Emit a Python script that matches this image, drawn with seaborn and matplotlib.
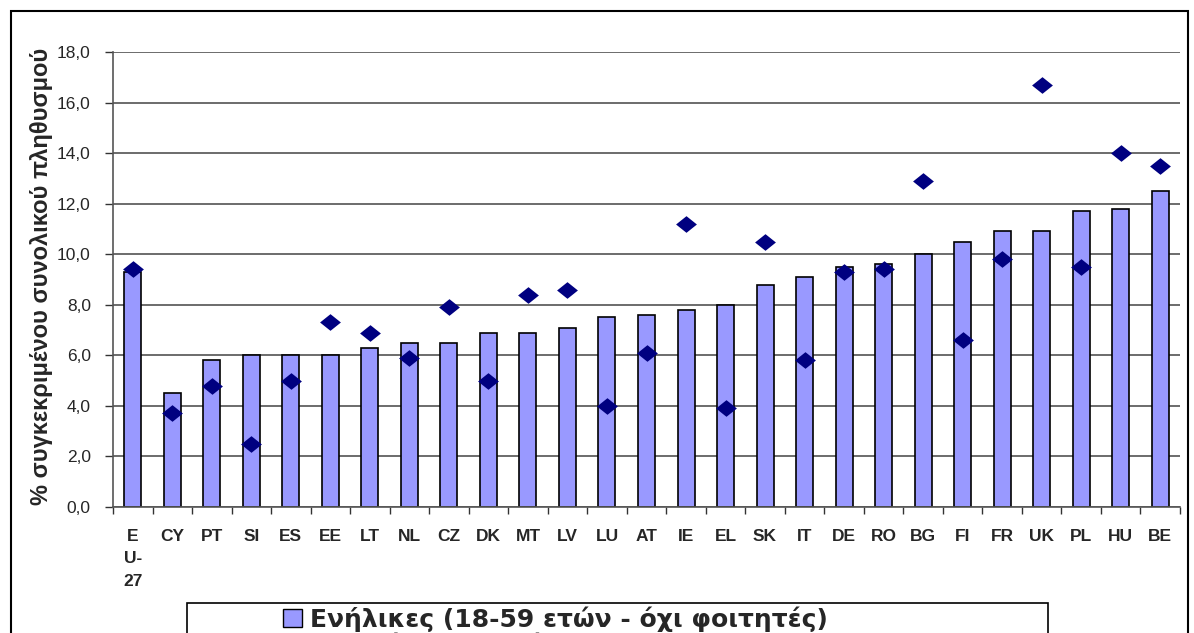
import numpy as np
import pandas as pd
import seaborn as sns
import matplotlib
matplotlib.use("Agg")
import matplotlib.pyplot as plt
from matplotlib.path import Path
from matplotlib.patches import Rectangle, Patch
from matplotlib.lines import Line2D

countries = ["EU-27", "CY", "PT", "SI", "ES", "EE", "LT", "NL", "CZ", "DK", "MT", "LV", "LU",
             "AT", "IE", "EL", "SK", "IT", "DE", "RO", "BG", "FI", "FR", "UK", "PL", "HU", "BE"]
tick_labels = ["E\nU-\n27", "CY", "PT", "SI", "ES", "EE", "LT", "NL", "CZ", "DK", "MT", "LV", "LU",
               "AT", "IE", "EL", "SK", "IT", "DE", "RO", "BG", "FI", "FR", "UK", "PL", "HU", "BE"]
adults = [9.3, 4.5, 5.8, 6.0, 6.0, 6.0, 6.3, 6.5, 6.5, 6.9, 6.9, 7.1, 7.5,
          7.6, 7.8, 8.0, 8.8, 9.1, 9.5, 9.6, 10.0, 10.5, 10.9, 10.9, 11.7, 11.8, 12.5]
children = [9.4, 3.7, 4.8, 2.5, 5.0, 7.3, 6.9, 5.9, 7.9, 5.0, 8.4, 8.6, 4.0,
            6.1, 11.2, 3.9, 10.5, 5.8, 9.3, 9.4, 12.9, 6.6, 9.8, 16.7, 9.5, 14.0, 13.5]
yticks = [0, 2, 4, 6, 8, 10, 12, 14, 16, 18]
ytick_labels = ["0,0", "2,0", "4,0", "6,0", "8,0", "10,0", "12,0", "14,0", "16,0", "18,0"]
label_adults = "Ενήλικες (18-59 ετών - όχι φοιτητές)"
label_children = "Παιδιά (0-17 ετών)"
ylabel = "% συγκεκριμένου συνολικού πληθυσμού"

df = pd.DataFrame({"country": countries, "adults": adults, "children": children})

sns.set_style("white")
plt.rcParams["font.family"] = ["Liberation Sans", "DejaVu Sans"]

W, H = 1194, 633
fig = plt.figure(figsize=(W / 100, H / 100), dpi=100)
ax = fig.add_axes([113 / W, 1 - 507 / H, (1180 - 113) / W, (507 - 52) / H])

bar_color = "#9999FF"
dia_color = "#000080"
diamond = Path([(-1, 0), (0, 0.8), (1, 0), (0, -0.8), (-1, 0)],
               [Path.MOVETO, Path.LINETO, Path.LINETO, Path.LINETO, Path.CLOSEPOLY])

sns.barplot(data=df, x="country", y="adults", order=countries, color=bar_color,
            width=0.43, edgecolor="black", linewidth=1.2, saturation=1, ax=ax, zorder=2)
sns.stripplot(data=df, x="country", y="children", order=countries, jitter=False,
              marker=diamond, size=15, color=dia_color, linewidth=0, ax=ax, zorder=3)

ax.set_xlim(-0.5, len(countries) - 0.5)
ax.set_ylim(0, 18)
ax.set_yticks(yticks)
ax.set_yticklabels(ytick_labels, fontsize=12.5)
ax.set_xticks(range(len(countries)))
ax.set_xticklabels(tick_labels, fontsize=12.5, fontweight="bold", va="top", linespacing=1.6)
ax.set_xticks(np.arange(-0.5, len(countries), 1.0), minor=True)
ax.tick_params(axis="x", which="major", length=0, pad=16)
ax.tick_params(axis="x", which="minor", length=5, width=1, color="#333333", direction="out", bottom=True)
ax.tick_params(axis="y", length=6, width=1, color="#333333", direction="out", left=True, pad=10)
ax.grid(axis="y", color="#444444", linewidth=1.1, zorder=0)
ax.set_axisbelow(True)
for s in ["top", "right"]:
    ax.spines[s].set_visible(False)
for s in ["left", "bottom"]:
    ax.spines[s].set_color("#555555")
    ax.spines[s].set_linewidth(1.2)
ax.set_xlabel("")
ax.set_ylabel("")

fig.text(42 / W, 1 - 276 / H, ylabel, rotation=90, fontsize=17, fontweight="bold",
         ha="center", va="center")

# outer chart frame
fig.add_artist(Rectangle((11 / W, -0.05), (1188 - 11) / W, 1.05 - 11 / H,
                         transform=fig.transFigure, fill=False, edgecolor="black", linewidth=1.5))
# legend frame
fig.add_artist(Rectangle((187 / W, -0.05), (1048 - 187) / W, 0.05 + 1 - 603 / H,
                         transform=fig.transFigure, fill=False, edgecolor="black", linewidth=1.2))

handles = [Patch(facecolor=bar_color, edgecolor="black", linewidth=1.0, label=label_adults),
           Line2D([], [], linestyle="none", marker=diamond, markersize=15, color=dia_color,
                  label=label_children)]
fig.legend(handles=handles, loc="upper left", bbox_to_anchor=(283 / W, 1 - 606 / H),
           frameon=False, prop={"size": 18, "weight": "bold", "family": "DejaVu Sans"},
           handlelength=0.75, handleheight=0.75, handletextpad=0.35, borderpad=0.0,
           labelspacing=0.1, borderaxespad=0.0)

fig.savefig("out.png", dpi=100)
